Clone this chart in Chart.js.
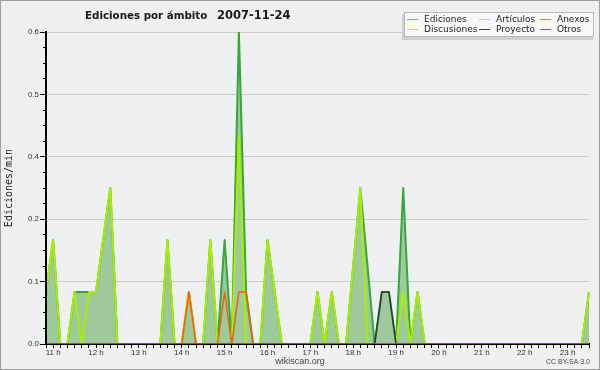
<!DOCTYPE html>
<html>
<head>
<meta charset="utf-8">
<title>Ediciones por ámbito 2007-11-24</title>
<script src="https://cdn.jsdelivr.net/npm/chart.js@4.4.0/dist/chart.umd.min.js"></script>
<style>
  html, body { margin: 0; padding: 0; background: #eff0f1; }
  #wrap { width: 600px; height: 370px; }
</style>
</head>
<body>
<div id="wrap"><canvas id="mainChart" width="600" height="370"></canvas></div>
<script>
// one point every 10 minutes
const timeLabels = [
  '10:50', '11:00', '11:10', '11:20', '11:30', '11:40', '11:50', '12:00', '12:10', '12:20',
  '12:30', '12:40', '12:50', '13:00', '13:10', '13:20', '13:30', '13:40', '13:50', '14:00',
  '14:10', '14:20', '14:30', '14:40', '14:50', '15:00', '15:10', '15:20', '15:30', '15:40',
  '15:50', '16:00', '16:10', '16:20', '16:30', '16:40', '16:50', '17:00', '17:10', '17:20',
  '17:30', '17:40', '17:50', '18:00', '18:10', '18:20', '18:30', '18:40', '18:50', '19:00',
  '19:10', '19:20', '19:30', '19:40', '19:50', '20:00', '20:10', '20:20', '20:30', '20:40',
  '20:50', '21:00', '21:10', '21:20', '21:30', '21:40', '21:50', '22:00', '22:10', '22:20',
  '22:30', '22:40', '22:50', '23:00', '23:10', '23:20', '23:30'
];

const ediciones = [
  0.1, 0.2, 0, 0, 0.1, 0.1, 0.1, 0.1, 0.2, 0.3,
  0, 0, 0, 0, 0, 0, 0, 0.2, 0, 0,
  0.1, 0, 0, 0.2, 0, 0.2, 0, 0.6, 0.1, 0,
  0, 0.2, 0.1, 0, 0, 0, 0, 0, 0.1, 0,
  0.1, 0, 0, 0.15, 0.3, 0.15, 0, 0.1, 0.1, 0,
  0.3, 0, 0.1, 0, 0, 0, 0, 0, 0, 0,
  0, 0, 0, 0, 0, 0, 0, 0, 0, 0,
  0, 0, 0, 0, 0, 0, 0.1
];
const articulos = [
  0.1, 0.2, 0, 0, 0.1, 0, 0.1, 0.1, 0.2, 0.3,
  0, 0, 0, 0, 0, 0, 0, 0.2, 0, 0,
  0, 0, 0, 0.2, 0, 0, 0, 0.4, 0, 0,
  0, 0.2, 0.1, 0, 0, 0, 0, 0, 0.1, 0,
  0.1, 0, 0, 0.15, 0.3, 0, 0, 0, 0, 0,
  0.1, 0, 0.1, 0, 0, 0, 0, 0, 0, 0,
  0, 0, 0, 0, 0, 0, 0, 0, 0, 0,
  0, 0, 0, 0, 0, 0, 0.1
];
const anexos = [
  0, 0, 0, 0, 0, 0, 0, 0, 0, 0,
  0, 0, 0, 0, 0, 0, 0, 0, 0, 0,
  0.1, 0, 0, 0, 0, 0.1, 0, 0.1, 0.1, 0,
  0, 0, 0, 0, 0, 0, 0, 0, 0, 0,
  0, 0, 0, 0, 0, 0, 0, 0, 0, 0,
  0, 0, 0, 0, 0, 0, 0, 0, 0, 0,
  0, 0, 0, 0, 0, 0, 0, 0, 0, 0,
  0, 0, 0, 0, 0, 0, 0
];
const discusiones = [
  0, 0, 0, 0, 0, 0, 0, 0, 0, 0,
  0, 0, 0, 0, 0, 0, 0, 0, 0, 0,
  0.1, 0, 0, 0, 0, 0, 0, 0, 0, 0,
  0, 0, 0, 0, 0, 0, 0, 0, 0, 0,
  0, 0, 0, 0, 0, 0, 0, 0, 0, 0,
  0, 0, 0, 0, 0, 0, 0, 0, 0, 0,
  0, 0, 0, 0, 0, 0, 0, 0, 0, 0,
  0, 0, 0, 0, 0, 0, 0
];
const proyecto = [
  0, 0, 0, 0, 0, 0, 0, 0, 0, 0,
  0, 0, 0, 0, 0, 0, 0, 0, 0, 0,
  0, 0, 0, 0, 0, 0, 0, 0, 0, 0,
  0, 0, 0, 0, 0, 0, 0, 0, 0, 0,
  0, 0, 0, 0, 0, 0, 0, 0.1, 0.1, 0,
  0, 0, 0, 0, 0, 0, 0, 0, 0, 0,
  0, 0, 0, 0, 0, 0, 0, 0, 0, 0,
  0, 0, 0, 0, 0, 0, 0
];
const otros = [
  0, 0, 0, 0, 0, 0, 0, 0, 0, 0,
  0, 0, 0, 0, 0, 0, 0, 0, 0, 0,
  0, 0, 0, 0, 0, 0, 0, 0, 0, 0,
  0, 0, 0, 0, 0, 0, 0, 0, 0, 0,
  0, 0, 0, 0, 0, 0, 0, 0, 0, 0,
  0, 0, 0, 0, 0, 0, 0, 0, 0, 0,
  0, 0, 0, 0, 0, 0, 0, 0, 0, 0,
  0, 0, 0, 0, 0, 0, 0
];

// y ticks every 0.12, labelled the way the original rounds them
const yTickLabels = ['0.0', '0.1', '0.2', '0.4', '0.5', '0.6'];

// legend order: row 1 then row 2
const seriesNames = ['Ediciones', 'Artículos', 'Anexos', 'Discusiones', 'Proyecto', 'Otros'];
const seriesColors = ['#35a83a', '#aaee00', '#f0600f', '#f5c400', '#333333', '#9933ff'];
const legendColors = ['#6cc06c', '#bbee44', '#f07a45', '#f0cc33', '#444444', '#8c4cf0'];

const bgColor = '#eff0f1';

const pageDecor = {
  id: 'pageDecor',
  beforeDraw(chart) {
    const ctx = chart.ctx;
    ctx.save();
    ctx.fillStyle = bgColor;
    ctx.fillRect(0, 0, chart.width, chart.height);
    ctx.strokeStyle = '#a0a0a0';
    ctx.lineWidth = 1;
    ctx.strokeRect(0.5, 0.5, chart.width - 1, chart.height - 1);
    ctx.restore();
  },
  afterDatasetsDraw(chart) {
    // y axis line stays on top of the filled area
    const ctx = chart.ctx;
    const a = chart.chartArea;
    ctx.save();
    ctx.fillStyle = '#000';
    ctx.fillRect(Math.round(a.left) - 1, Math.round(a.top) - 1, 2, a.bottom - a.top + 2);
    ctx.restore();
  },
  afterDraw(chart) {
    const ctx = chart.ctx;
    ctx.save();

    // title
    ctx.fillStyle = '#1a1a1a';
    ctx.textBaseline = 'alphabetic';
    ctx.textAlign = 'left';
    ctx.font = 'bold 10.3px "DejaVu Sans"';
    ctx.fillText('Ediciones por ámbito', 85, 18.5);
    ctx.font = 'bold 11.5px "DejaVu Sans"';
    ctx.fillText('2007-11-24', 217, 18.5);

    // y axis title
    ctx.save();
    ctx.translate(9, 188);
    ctx.rotate(-Math.PI / 2);
    ctx.textAlign = 'center';
    ctx.textBaseline = 'middle';
    ctx.font = '10px "DejaVu Sans Mono"';
    ctx.fillStyle = '#222';
    ctx.fillText('Ediciones/min', 0, 0);
    ctx.restore();

    // footer
    ctx.fillStyle = '#444';
    ctx.textBaseline = 'middle';
    ctx.textAlign = 'center';
    ctx.font = '9px "Liberation Sans"';
    ctx.fillText('wikiscan.org', 300, 361.5);
    ctx.textAlign = 'right';
    ctx.font = '7px "Liberation Sans"';
    ctx.fillText('CC BY-SA 3.0', 590, 362);

    // legend box
    ctx.fillStyle = '#cfcfcf';
    ctx.fillRect(402, 14, 191, 26);
    ctx.fillStyle = '#f8f8f8';
    ctx.fillRect(404, 12, 190, 25);
    ctx.strokeStyle = '#b8b8b8';
    ctx.strokeRect(404.5, 12.5, 189, 24);

    const colX = [407, 479, 540];
    const rowY = [19.5, 29.5];
    ctx.font = '9px "DejaVu Sans"';
    ctx.textAlign = 'left';
    ctx.textBaseline = 'middle';
    seriesNames.forEach((name, i) => {
      const x = colX[i % 3];
      const y = rowY[Math.floor(i / 3)];
      ctx.strokeStyle = legendColors[i];
      ctx.lineWidth = 1;
      ctx.beginPath();
      ctx.moveTo(x, y);
      ctx.lineTo(x + 11, y);
      ctx.stroke();
      ctx.fillStyle = '#222';
      ctx.fillText(name, x + 17, y);
    });

    ctx.restore();
  }
};

function makeSet(i, data, width, order) {
  return {
    label: seriesNames[i],
    data: data,
    borderColor: seriesColors[i],
    borderWidth: width,
    pointRadius: 0,
    tension: 0,
    fill: false,
    borderJoinStyle: 'round',
    order: order
  };
}

const totalSet = makeSet(0, ediciones, 2, 10);
totalSet.fill = 'origin';
totalSet.backgroundColor = '#9dc99d';

const tickFont = { family: 'Liberation Sans', size: 8 };

new Chart(document.getElementById('mainChart'), {
  type: 'line',
  data: {
    labels: timeLabels,
    datasets: [
      totalSet,
      makeSet(1, articulos, 2, 8),
      makeSet(3, discusiones, 2, 6),
      makeSet(2, anexos, 1.5, 4),
      makeSet(4, proyecto, 1.5, 2),
      makeSet(5, otros, 1.5, 1)
    ]
  },
  options: {
    responsive: false,
    animation: false,
    devicePixelRatio: 1,
    layout: { padding: { top: 32, right: 11, left: 0, bottom: 0 } },
    plugins: {
      legend: { display: false },
      tooltip: { enabled: false }
    },
    scales: {
      x: {
        type: 'category',
        offset: false,
        z: 1,
        grid: { display: true, drawOnChartArea: false, tickLength: 4, tickColor: '#000', tickWidth: 1 },
        border: { display: true, color: '#000', width: 2 },
        ticks: {
          autoSkip: false,
          maxRotation: 0,
          minRotation: 0,
          padding: 0,
          color: '#333',
          font: tickFont,
          callback: function (val, index) {
            const t = timeLabels[index];
            return t.endsWith(':00') ? parseInt(t, 10) + ' h' : '';
          }
        },
        afterFit: s => { s.height = 26; }
      },
      y: {
        min: 0,
        max: 0.6,
        ticks: {
          stepSize: 0.03,
          autoSkip: false,
          padding: 1,
          color: '#333',
          font: tickFont,
          callback: (v, i) => (i % 4 === 0 ? yTickLabels[i / 4] : '')
        },
        grid: {
          color: c => (c.index % 4 === 0 && c.index > 0 ? '#cdcdcd' : 'rgba(0,0,0,0)'),
          tickColor: '#000',
          tickLength: 6,
          tickBorderDash: c => (c.index % 4 === 0 ? [] : [0, 3, 10])
        },
        border: { color: '#000', width: 2 },
        afterFit: s => { s.width = 46; }
      }
    }
  },
  plugins: [pageDecor]
});
</script>
</body>
</html>
